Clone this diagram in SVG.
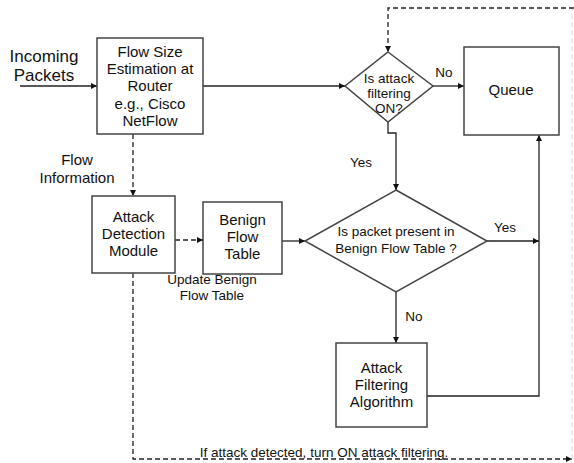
<svg xmlns="http://www.w3.org/2000/svg" width="574" height="463" viewBox="0 0 574 463">
<style>
text{font-family:"Liberation Sans",Arial,sans-serif;fill:#111;text-anchor:middle}
.t15{font-size:15px}
.t17{font-size:17px}
.t135{font-size:13.5px}
.box{fill:#fff;stroke:#444;stroke-width:1.5}
.ln{fill:none;stroke:#222;stroke-width:1.3}
.ds{fill:none;stroke:#222;stroke-width:1.3;stroke-dasharray:5,3}
</style>
<defs>
<marker id="ah" viewBox="0 0 10 10" refX="10" refY="5" markerWidth="6" markerHeight="6" markerUnits="userSpaceOnUse" orient="auto">
<path d="M0,0 L10,5 L0,10 z" fill="#111"/>
</marker>
</defs>
<rect width="574" height="463" fill="#fff"/>
<g id="connectors">
<line class="ln" x1="20" y1="86" x2="97" y2="86" marker-end="url(#ah)"/>
<line class="ln" x1="203" y1="86" x2="345" y2="86" marker-end="url(#ah)"/>
<line class="ln" x1="433" y1="86" x2="464" y2="86" marker-end="url(#ah)"/>
<path class="ln" d="M388,122 V133 H396 V190" marker-end="url(#ah)"/>
<line class="ds" x1="133" y1="134" x2="133" y2="196" marker-end="url(#ah)"/>
<line class="ds" x1="175" y1="240" x2="203" y2="240" marker-end="url(#ah)"/>
<line class="ln" x1="282" y1="241" x2="305" y2="241" marker-end="url(#ah)"/>
<line class="ln" x1="487" y1="241" x2="539" y2="241" marker-end="url(#ah)"/>
<line class="ln" x1="396" y1="292" x2="396" y2="343" marker-end="url(#ah)"/>
<path class="ln" d="M427,396 H539 V135" marker-end="url(#ah)"/>
<path class="ds" d="M133,273 V459 H572" marker-end="url(#ah)"/>
<line x1="572" y1="459" x2="572" y2="8" stroke="#ddd" stroke-width="1" stroke-dasharray="5,3"/>
<path class="ds" d="M574,8 H388 V52" marker-end="url(#ah)"/>
</g>
<g id="incoming-label">
<text class="t17" x="44" y="62">Incoming</text>
<text class="t17" x="44" y="81">Packets</text>
</g>
<g id="flow-size">
<rect class="box" x="97" y="38" width="106" height="96"/>
<text class="t15" x="150" y="56.5">Flow Size</text>
<text class="t15" x="150" y="74">Estimation at</text>
<text class="t15" x="150" y="91">Router</text>
<text class="t15" x="150" y="108.5">e.g., Cisco</text>
<text class="t15" x="150" y="126">NetFlow</text>
</g>
<g id="flow-info-label">
<text class="t15" x="77" y="165">Flow</text>
<text class="t15" x="77" y="182.5">Information</text>
</g>
<g id="decision-filtering">
<polygon class="box" points="388,52 433,86 388,122 345,86"/>
<text class="t135" x="389" y="82.5">Is attack</text>
<text class="t135" x="389" y="97.5">filtering</text>
<text class="t135" x="389" y="113">ON?</text>
</g>
<g id="no-top-label"><text class="t135" x="444" y="77">No</text></g>
<g id="queue">
<rect class="box" x="464" y="47" width="95" height="88"/>
<text class="t15" x="511" y="95">Queue</text>
</g>
<g id="yes-mid-label"><text class="t135" x="361" y="166.5">Yes</text></g>
<g id="attack-detection">
<rect class="box" x="92" y="196" width="83" height="77"/>
<text class="t15" x="133.5" y="221.5">Attack</text>
<text class="t15" x="133.5" y="239">Detection</text>
<text class="t15" x="133.5" y="256">Module</text>
</g>
<g id="benign-table">
<rect class="box" x="203" y="202" width="79" height="72"/>
<text class="t15" x="242.5" y="225">Benign</text>
<text class="t15" x="242.5" y="242">Flow</text>
<text class="t15" x="242.5" y="259">Table</text>
</g>
<g id="update-label">
<text class="t135" x="212" y="284">Update Benign</text>
<text class="t135" x="212" y="300">Flow Table</text>
</g>
<g id="decision-benign">
<polygon class="box" points="396,190 487,241 396,292 305,241"/>
<text class="t135" x="396" y="236">Is packet present in</text>
<text class="t135" x="396" y="252.5">Benign Flow Table ?</text>
</g>
<g id="yes-right-label"><text class="t135" x="505" y="231.5">Yes</text></g>
<g id="no-bottom-label"><text class="t135" x="414" y="321">No</text></g>
<g id="attack-filtering">
<rect class="box" x="336" y="343" width="91" height="84"/>
<text class="t15" x="381.5" y="372.5">Attack</text>
<text class="t15" x="381.5" y="390">Filtering</text>
<text class="t15" x="381.5" y="406.5">Algorithm</text>
</g>
<g id="bottom-label">
<text class="t135" x="324" y="456.5">If attack detected, turn ON attack filtering.</text>
</g>
</svg>
